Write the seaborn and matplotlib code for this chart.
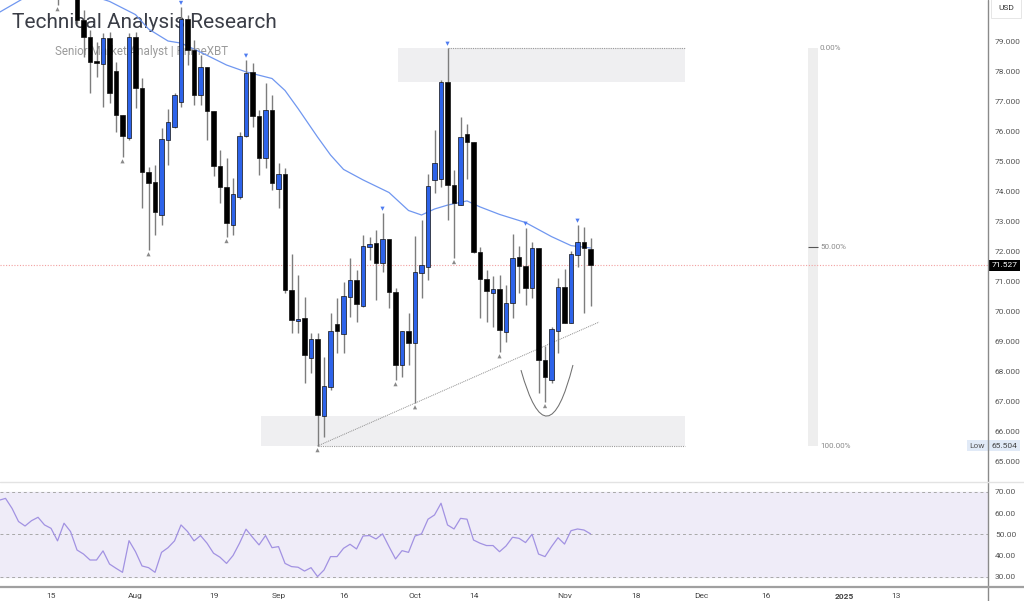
import matplotlib
matplotlib.use("Agg")
import matplotlib.pyplot as plt
import matplotlib.transforms as mtransforms
from matplotlib.lines import Line2D
from matplotlib.patches import Rectangle, PathPatch
from matplotlib.path import Path
import numpy as np
import seaborn as sns

W, H = 1024, 601

# daily bars, index 0 = 15 Jul 2024 (weekday count, like the source chart)
bar_idx = list(range(1, 84))
opens = [81.00, 80.90, 81.20, 80.70, 79.70, 79.13, 78.33, 78.23, 79.10, 78.00,
         76.53, 75.77, 79.13, 77.43, 74.63, 74.30, 73.20, 75.70, 76.13, 76.97,
         79.73, 78.70, 77.20, 78.13, 76.67, 74.83, 74.13, 72.87, 73.80, 75.83,
         77.97, 76.50, 75.10, 76.70, 74.07, 74.57, 70.70, 69.67, 69.77, 68.43,
         69.07, 66.50, 67.47, 69.57, 69.23, 70.47, 71.03, 70.17, 72.13, 72.27,
         71.60, 72.40, 70.63, 68.20, 69.33, 68.93, 71.27, 71.47, 74.37, 74.40,
         77.63, 74.20, 73.53, 75.90, 75.63, 71.97, 71.07, 70.60, 70.73, 69.30,
         70.27, 71.80, 71.50, 70.77, 72.10, 68.37, 67.70, 69.33, 70.80, 69.60,
         71.87, 72.30, 72.07]
highs = [81.30, 81.50, 81.40, 80.90, 80.03, 79.37, 78.97, 79.27, 79.30, 78.30,
         76.53, 79.27, 79.30, 77.77, 74.80, 74.87, 76.10, 76.73, 77.27, 80.13,
         79.87, 79.03, 78.53, 78.13, 76.67, 75.37, 75.10, 74.43, 75.97, 78.37,
         78.27, 76.70, 77.60, 77.20, 74.93, 74.77, 71.90, 71.20, 70.47, 69.27,
         69.27, 68.47, 69.93, 70.43, 70.97, 71.77, 71.37, 72.53, 72.47, 72.70,
         73.27, 72.40, 70.77, 69.33, 69.93, 72.50, 73.03, 74.57, 76.03, 77.70,
         78.77, 74.70, 76.47, 76.23, 75.63, 72.13, 71.37, 71.17, 71.20, 70.87,
         72.57, 72.17, 72.77, 72.30, 72.10, 68.83, 69.47, 71.10, 71.40, 72.00,
         72.87, 72.80, 72.43]
lows = [80.20, 80.60, 80.50, 79.57, 78.47, 77.27, 77.80, 76.80, 76.93, 75.97,
        75.13, 75.70, 76.77, 73.43, 72.03, 72.53, 72.87, 74.87, 76.10, 76.80,
        78.20, 76.87, 76.87, 75.70, 74.50, 73.60, 72.47, 72.53, 73.73, 75.80,
        76.13, 74.53, 74.77, 74.03, 73.43, 70.60, 69.27, 69.27, 67.60, 67.93,
        65.50, 65.80, 67.37, 68.60, 68.60, 69.80, 69.63, 70.13, 71.70, 70.37,
        71.30, 70.10, 67.70, 67.80, 68.20, 66.93, 70.43, 71.03, 73.93, 74.13,
        73.03, 71.77, 73.53, 74.40, 71.93, 69.77, 69.63, 69.47, 68.63, 68.97,
        69.77, 70.60, 70.20, 70.43, 67.27, 66.97, 67.60, 68.60, 69.60, 69.60,
        71.47, 69.93, 70.17]
closes = [80.80, 81.20, 80.70, 79.70, 79.13, 78.30, 78.27, 79.10, 77.27, 76.53,
          75.83, 79.13, 77.43, 74.63, 74.27, 73.30, 75.73, 76.30, 77.20, 79.73,
          78.70, 77.20, 78.13, 76.67, 74.83, 74.13, 72.93, 73.90, 75.83, 77.93,
          76.50, 75.10, 76.70, 74.27, 74.57, 70.70, 69.70, 69.73, 68.53, 69.07,
          66.53, 67.50, 69.33, 69.33, 70.50, 71.03, 70.23, 72.17, 72.23, 71.60,
          72.40, 70.63, 68.20, 69.33, 68.93, 71.30, 71.53, 74.17, 74.93, 77.63,
          74.20, 73.60, 75.80, 75.63, 71.97, 71.07, 70.67, 70.73, 69.37, 70.27,
          71.77, 71.50, 70.77, 72.10, 68.37, 67.80, 69.40, 70.80, 69.60, 71.90,
          72.30, 72.10, 71.53]

swing_low_idx = [1, 11, 15, 27, 41, 53, 56, 62, 69, 76]
swing_high_idx = [20, 30, 51, 61, 73, 81]

ema_idx = [-8, -6, -4, -1, 2, 5, 9, 11, 13, 15, 18, 20, 23, 27, 30, 34, 36, 38,
           41, 43, 45, 48, 52, 55, 57, 59, 61, 64, 66, 69, 73, 77, 80, 83]
ema_vals = [79.95, 80.20, 80.45, 80.65, 80.75, 80.60, 80.32, 80.10, 79.88, 79.40,
            79.00, 78.93, 78.63, 78.20, 77.97, 77.75, 77.35, 76.75, 75.80, 75.20,
            74.72, 74.37, 73.95, 73.35, 73.20, 73.40, 73.53, 73.67, 73.47, 73.22,
            72.95, 72.48, 72.18, 72.10]

rsi_idx = list(range(-8, 84))
rsi_vals = [66.0, 66.9, 62.2, 56.0, 53.9, 56.4, 58.0, 54.4, 52.8, 46.9,
            55.2, 51.3, 42.6, 40.7, 37.9, 37.9, 42.2, 36.0, 34.0, 32.1,
            47.0, 41.8, 35.1, 34.3, 32.1, 41.5, 43.7, 46.9, 54.4, 51.3,
            46.9, 49.4, 45.8, 41.1, 39.2, 36.3, 40.0, 45.8, 52.4, 48.6,
            45.0, 49.4, 43.7, 44.2, 36.3, 34.8, 34.5, 32.7, 34.3, 30.1,
            33.2, 39.5, 39.5, 43.4, 45.3, 43.1, 49.2, 49.4, 47.8, 50.2,
            44.2, 38.4, 42.3, 41.5, 49.2, 50.2, 57.1, 59.1, 64.6, 54.4,
            52.5, 57.5, 57.1, 47.3, 45.8, 44.7, 44.7, 41.8, 44.5, 48.6,
            48.1, 46.1, 50.0, 40.7, 39.5, 44.2, 48.4, 45.4, 51.7, 52.5,
            52.0, 50.2]

date_tick_idx = [0, 13, 25, 35, 45, 56, 65, 79, 90, 100, 110, 122, 130]
date_tick_labels = ["15", "Aug", "19", "Sep", "16", "Oct", "14", "Nov", "18",
                    "Dec", "16", "2025", "13"]
price_ticks = list(range(65, 80))
rsi_ticks = [30, 40, 50, 60, 70]

last_price = 71.527
range_low = 65.504
range_high = 78.77
fib_levels = [0.0, 0.5, 1.0]
supply_zone = (77.63, 78.77)
demand_zone = (65.50, 66.50)
trend_start = (41, 65.50)
trend_end = (84.3, 69.63)
arc_pts = [(72.3, 68.03), (76.4, 64.88), (80.3, 68.2)]

BLUE = "#2d63ea"
EMA_COL = "#7097f0"
RSI_COL = "#a292e2"

sns.set_theme(style="white")
plt.rcParams['font.family'] = ['Roboto', 'DejaVu Sans']

fig = plt.figure(figsize=(W / 100, H / 100), dpi=100)
ax = fig.add_axes([0, 119 / H, 988 / W, 482 / H])
rax = fig.add_axes([0, 14 / H, 988 / W, 105 / H])

xlim = (-7.85, 144.15)
for a in (ax, rax):
    a.set_xlim(*xlim)
    for s in a.spines.values():
        s.set_visible(False)
ax.set_ylim(64.30, 80.367)
rax.set_ylim(25.2, 74.6)

# --- price panel ---
o = np.array(opens)
c = np.array(closes)
up = c >= o
body_lo = np.minimum(o, c)
body_h = np.maximum(np.abs(c - o), 0.05)
ax.vlines(bar_idx, lows, highs, color="#7d7d7d", lw=1, zorder=2)
ax.bar(bar_idx, body_h, bottom=body_lo, width=0.7,
       color=[BLUE if u else "black" for u in up],
       edgecolor="#111111", linewidth=0.5, zorder=3)

sns.lineplot(x=ema_idx, y=ema_vals, ax=ax, color=EMA_COL, lw=0.9, zorder=1.5,
             legend=False)

lows_a = np.array(lows)
highs_a = np.array(highs)
li = [bar_idx.index(i) for i in swing_low_idx]
hi = [bar_idx.index(i) for i in swing_high_idx]
sns.scatterplot(x=swing_low_idx, y=lows_a[li] - 0.14, ax=ax, marker="^", s=9,
                color="#8a8a8a", edgecolor="none", zorder=4, legend=False)
sns.scatterplot(x=swing_high_idx, y=highs_a[hi] + 0.14, ax=ax, marker="v", s=9,
                color="#4f7cf0", edgecolor="none", zorder=4, legend=False)

# zones
ax.add_patch(Rectangle((53.4, supply_zone[0]), 97.5 - 53.4,
                       supply_zone[1] - supply_zone[0], fc="#efeff1", ec="none", zorder=0.5))
ax.add_patch(Rectangle((32.3, demand_zone[0]), 97.5 - 32.3,
                       demand_zone[1] - demand_zone[0], fc="#efeff1", ec="none", zorder=0.5))
ax.hlines(range_high, 61, 97.5, color="#9a9a9a", lw=0.8, ls=(0, (1, 1)), zorder=1)
ax.hlines(range_low, 41, 97.5, color="#9a9a9a", lw=0.8, ls=(0, (1, 1)), zorder=1)

# fib strip
ax.add_patch(Rectangle((116.5, range_low), 1.5, range_high - range_low,
                       fc="#eeeeee", ec="none", zorder=0.5))
for f in fib_levels:
    lvl = range_high - f * (range_high - range_low)
    if f == 0.5:
        ax.hlines(lvl, 116.5, 118.0, color="#555555", lw=0.8, zorder=1)
    ax.text(118.3, lvl, f"{f * 100:.2f}%", fontsize=5.8, color="#8a8a8a",
            va="center", ha="left", zorder=1)

# trendline and rounding-bottom arc
ax.plot([trend_start[0], trend_end[0]], [trend_start[1], trend_end[1]],
        color="#8c8c8c", lw=0.7, ls=(0, (1, 1)), zorder=1.8)
arc = Path(arc_pts, [Path.MOVETO, Path.CURVE3, Path.CURVE3])
ax.add_patch(PathPatch(arc, fc="none", ec="#707070", lw=0.75, zorder=1.8))

ax.axhline(last_price, color="#f2a0a0", lw=0.8, ls=(0, (1, 1.5)), zorder=1)

ax.set_xticks([])
ax.yaxis.tick_right()
ax.set_yticks(price_ticks)
ax.set_yticklabels([f"{v:.3f}" for v in price_ticks])
ax.tick_params(axis="y", length=0, pad=5, labelsize=6, labelcolor="#555555")
ax.grid(False)

ytr = mtransforms.blended_transform_factory(ax.transAxes, ax.transData)
ax.text(1.004, last_price, f"{last_price:.3f}", transform=ytr, fontsize=6,
        color="white", va="center", ha="left", clip_on=False, zorder=6,
        bbox=dict(boxstyle="square,pad=0.3", fc="black", ec="none"))
ax.text(1.004, range_low, f"{range_low:.3f}", transform=ytr, fontsize=6,
        color="#444444", va="center", ha="left", clip_on=False, zorder=6,
        bbox=dict(boxstyle="square,pad=0.3", fc="#e1eaf7", ec="none"))
ax.text(0.997, range_low, "Low", transform=ytr, fontsize=6,
        color="#555555", va="center", ha="right", clip_on=False, zorder=6,
        bbox=dict(boxstyle="square,pad=0.3", fc="#e1eaf7", ec="none"))

# title block (sits behind the candles)
ax.text(12 / W, 1 - 23 / H, "Technical Analysis Research", transform=fig.transFigure,
        fontsize=15, color="#3a3d46", va="center", ha="left", zorder=1)
ax.text(55 / W, 1 - 51 / H, "Senior Market Analyst | PrimeXBT", transform=fig.transFigure,
        fontsize=8.4, color="#9a9a9a", va="center", ha="left", zorder=1)

# --- RSI panel ---
rax.axhspan(30, 70, color="#efecf8", zorder=0)
for lv in (30, 50, 70):
    rax.axhline(lv, color="#a8a8a8", lw=0.7, ls=(0, (3, 3)), zorder=1)
sns.lineplot(x=rsi_idx, y=rsi_vals, ax=rax, color=RSI_COL, lw=0.9, zorder=2,
             legend=False)
rax.yaxis.tick_right()
rax.set_yticks(rsi_ticks)
rax.set_yticklabels([f"{v:.2f}" for v in rsi_ticks])
rax.tick_params(axis="y", length=0, pad=5, labelsize=6, labelcolor="#555555")
rax.set_xticks(date_tick_idx)
rax.set_xticklabels(date_tick_labels)
rax.tick_params(axis="x", length=0, pad=4, labelsize=6, labelcolor="#444444")
for lab in rax.get_xticklabels():
    if lab.get_text() == "2025":
        lab.set_fontweight("bold")
rax.set_ylabel("")
ax.set_ylabel("")
rax.grid(False)

# frame lines
fig.add_artist(Line2D([988 / W, 988 / W], [0, 1], color="#8a8a8a", lw=1))
fig.add_artist(Line2D([0, 1], [1 - 482 / H] * 2, color="#e3e3e3", lw=1))
fig.add_artist(Line2D([0, 1], [1 - 587 / H] * 2, color="#a0a0a0", lw=1.6))

fig.text(1006 / W, 1 - 8 / H, "USD", fontsize=6, color="#333333", ha="center",
         va="center", bbox=dict(boxstyle="square,pad=0.8", fc="white", ec="#e2e2e2", lw=0.6))

fig.savefig("out.png", dpi=100)
